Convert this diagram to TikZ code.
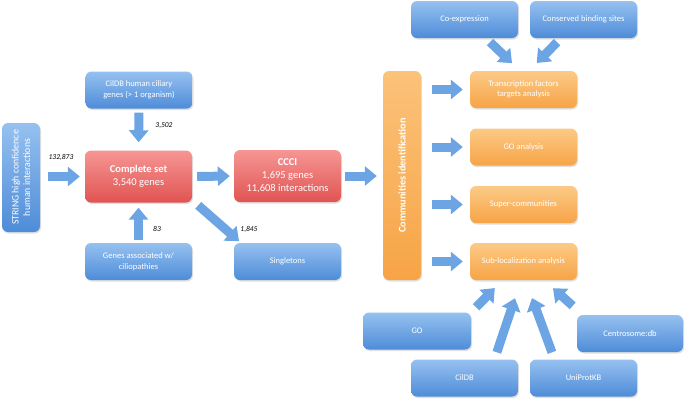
\documentclass[tikz,border=0pt]{standalone}
\usepackage{fontspec}
\setmainfont{Carlito}
\usepackage{tikz}
\usetikzlibrary{arrows.meta, shadows}
\usepackage{xcolor}

\definecolor{bluetop}{RGB}{150,193,240}
\definecolor{bluebot}{RGB}{78,140,216}
\definecolor{redtop}{RGB}{246,150,148}
\definecolor{redbot}{RGB}{224,84,82}
\definecolor{orangetop}{RGB}{252,202,135}
\definecolor{orangebot}{RGB}{247,164,70}
\definecolor{arrowblue}{RGB}{108,164,228}

\begin{document}
\begin{tikzpicture}[x=1pt, y=-1pt]

        % 1. Page frame (pixel grid of the reference)
        \useasboundingbox (0,0) rectangle (685,400);

        % 2. Styles for the boxes and the block arrows
        \tikzset{
            box/.style={rounded corners=6pt, text=white, align=center,
                minimum width=107pt, minimum height=37pt, inner sep=2pt,
                font=\fontsize{8.5}{10.5}\selectfont,
                drop shadow={opacity=0.25, shadow xshift=1pt, shadow yshift=-1.5pt}},
            bluebox/.style={box, top color=bluetop, bottom color=bluebot},
            redbox/.style={box, top color=redtop, bottom color=redbot,
                minimum height=52pt, font=\fontsize{10.5}{13}\selectfont},
            orangebox/.style={box, top color=orangetop, bottom color=orangebot},
            fatarrow/.style={draw=arrowblue, line width=9pt,
                -{Triangle[length=12pt, width=19pt]}},
            count/.style={font=\fontsize{7.5}{9}\selectfont\itshape, text=black}
        }

        % 3. Input sources and the complete set
        \node[bluebox, rotate=90, minimum width=109pt, minimum height=38pt,
              font=\fontsize{9.8}{11.5}\selectfont] (string) at (21,177.5)
            {STRING high confidence\\human interactions};
        \node[bluebox] (cildbh) at (139,90) {CilDB human ciliary\\genes (> 1 organism)};
        \node[redbox] (complete) at (138.5,176.5) {\textbf{Complete set}\\3,540 genes};
        \node[bluebox] (genes) at (138.5,261.5) {Genes associated w/\\ciliopathies};

        % 4. Network and singletons
        \node[redbox] (ccci) at (287.5,176) {\textbf{CCCI}\\1,695 genes\\11,608 interactions};
        \node[bluebox] (singletons) at (287.5,261.5) {Singletons};

        % 5. Communities and the analyses
        \node[orangebox, rotate=90, minimum width=209pt, minimum height=38pt,
              top color=orangetop!80!orangebot, bottom color=orangebot,
              font=\fontsize{10.2}{12}\selectfont] (communities) at (402,175.5)
            {\textbf{Communities identification}};
        \node[orangebox] (tf) at (523.5,89.5) {Transcription factors\\targets analysis};
        \node[orangebox] (goana) at (523.5,147) {GO analysis};
        \node[orangebox] (super) at (523.5,204.5) {Super-communities};
        \node[orangebox] (subloc) at (523.5,261.5) {Sub-localization analysis};

        % 6. Extra data sources
        \node[bluebox] (coexp) at (464.5,19.5) {Co-expression};
        \node[bluebox] (conserved) at (583.5,19.5) {Conserved binding sites};
        \node[bluebox, minimum width=108pt] (go) at (417,331) {GO};
        \node[bluebox, minimum width=106pt] (centrosome) at (630,333.5) {Centrosome:db};
        \node[bluebox] (cildb) at (464.5,378) {CilDB};
        \node[bluebox] (uniprot) at (583.5,378) {UniProtKB};

        % 7. Block arrows
        \draw[fatarrow, shorten <=8pt, shorten >=5pt] (string.south |- complete.west) -- (complete.west);
        \draw[fatarrow, shorten <=4pt, shorten >=8pt] (cildbh.south) -- (complete.north);
        \draw[fatarrow, shorten <=3pt, shorten >=5pt] (genes.north) -- (complete.south);
        \draw[fatarrow, shorten <=5pt, shorten >=4pt] (complete.east) -- (ccci.west);
        \draw[fatarrow, shorten <=4pt, shorten >=1pt] ([xshift=3pt]complete.south east)
            -- ([xshift=6pt,yshift=1pt]singletons.north west);
        \draw[fatarrow, shorten <=4pt, shorten >=6pt] (ccci.east) -- (communities.north |- ccci.east);

        \foreach \target in {tf, goana, super, subloc}
            \draw[fatarrow, shorten <=11pt, shorten >=7pt] (communities.south |- \target.west) -- (\target.west);

        \draw[fatarrow, shorten <=5.6pt, shorten >=11pt] ([xshift=21.5pt]coexp.south) -- ([xshift=-3.5pt]tf.north);
        \draw[fatarrow, shorten <=5.6pt, shorten >=11pt] ([xshift=-22.5pt]conserved.south) -- ([xshift=5.5pt]tf.north);

        \draw[fatarrow, shorten <=7pt, shorten >=11pt] (go.north east) -- ([xshift=-21pt]subloc.south);
        \draw[fatarrow, shorten <=7.4pt, shorten >=19pt] ([xshift=30pt]cildb.north) -- ([xshift=-2.5pt]subloc.south);
        \draw[fatarrow, shorten <=7.4pt, shorten >=19pt] ([xshift=-29pt]uniprot.north) -- ([xshift=2pt]subloc.south);
        \draw[fatarrow, shorten <=13.5pt, shorten >=12pt] ([xshift=6pt]centrosome.north west) -- ([xshift=20.5pt]subloc.south);

        % 8. Gene counts on the arrows
        \node[count] (nstring) at (61,157) {132,873};
        \node[count] (ncildbh) at (164,126) {3,502};
        \node[count] (ngenes) at (157,229) {83};
        \node[count] (nsingle) at (249,229) {1,845};

    \end{tikzpicture}
\end{document}
